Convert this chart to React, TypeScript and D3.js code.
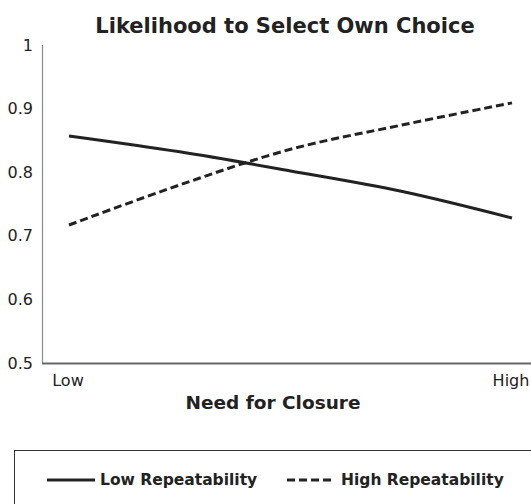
import React from "react";
import * as d3 from "d3";

// need for closure, 0 = Low, 1 = High
const closure = [0, 0.25, 0.5, 0.75, 1];
const lowRepeatability = [0.857, 0.832, 0.802, 0.77, 0.728];
const highRepeatability = [0.717, 0.78, 0.836, 0.874, 0.909];
const yTicks = [0.5, 0.6, 0.7, 0.8, 0.9, 1];
const xLabels = [
  { at: 0, text: "Low" },
  { at: 1, text: "High" },
];

const W = 531;
const H = 504;
const font = "'DejaVu Sans', Verdana, sans-serif";

export default function App() {
  const x = d3.scaleLinear().domain([0, 1]).range([69, 512]);
  const y = d3.scaleLinear().domain([0.5, 1]).range([363, 45]);

  const line = d3
    .line<number>()
    .x((d, i) => x(closure[i]))
    .y((d) => y(d))
    .curve(d3.curveCatmullRom.alpha(0.5));

  return (
    <svg
      width={W}
      height={H}
      style={{ position: "absolute", left: 0, top: 0 }}
      fontFamily={font}
    >
      <rect width={W} height={H} fill="#fff" />
      <text x={285} y={33} textAnchor="middle" fontSize={21} fontWeight="bold" fill="#222">
        Likelihood to Select Own Choice
      </text>

      {/* y axis */}
      <line x1={42.5} x2={42.5} y1={45} y2={363} stroke="#8a8a8a" strokeWidth={1.2} />
      {yTicks.map((t) => (
        <text key={t} x={33} y={y(t)} dy="0.35em" textAnchor="end" fontSize={16} fill="#222">
          {t}
        </text>
      ))}

      {/* x axis */}
      <line x1={42} x2={W} y1={363.5} y2={363.5} stroke="#666" strokeWidth={2} />
      {xLabels.map((l) => (
        <text key={l.text} x={x(l.at) - 1} y={386} textAnchor="middle" fontSize={16} fill="#222">
          {l.text}
        </text>
      ))}
      <text x={273} y={409} textAnchor="middle" fontSize={18.5} fontWeight="bold" fill="#222">
        Need for Closure
      </text>

      <path d={line(lowRepeatability) ?? ""} fill="none" stroke="#222" strokeWidth={3} />
      <path
        d={line(highRepeatability) ?? ""}
        fill="none"
        stroke="#222"
        strokeWidth={3}
        strokeDasharray="8 4"
      />

      {/* legend */}
      <rect x={14.5} y={450.5} width={W} height={H} fill="none" stroke="#333" strokeWidth={1} />
      <line x1={47} x2={95} y1={480} y2={480} stroke="#222" strokeWidth={3} />
      <text x={100} y={480} dy="0.35em" fontSize={15.5} fontWeight="bold" fill="#222">
        Low Repeatability
      </text>
      <line x1={287} x2={335} y1={480} y2={480} stroke="#222" strokeWidth={3} strokeDasharray="8 4" />
      <text x={341} y={480} dy="0.35em" fontSize={15.5} fontWeight="bold" fill="#222">
        High Repeatability
      </text>
    </svg>
  );
}
